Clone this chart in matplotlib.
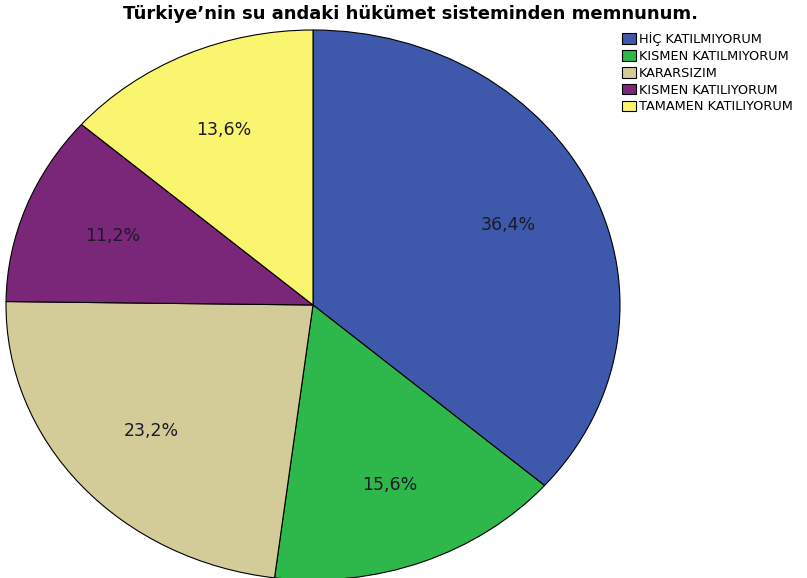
import matplotlib
matplotlib.use("Agg")
import matplotlib.pyplot as plt

plt.rcParams['font.family'] = ['DejaVu Sans']

title = "Türkiye’nin su andaki hükümet sisteminden memnunum."
categories = ["HİÇ KATILMIYORUM", "KISMEN KATILMIYORUM", "KARARSIZIM",
              "KISMEN KATILIYORUM", "TAMAMEN KATILIYORUM"]
values = [36.4, 15.6, 23.2, 11.2, 13.6]
colors = ["#3E58AC", "#2EB84B", "#D4CC98", "#7B2779", "#FAF56E"]

W, H = 807, 578
fig = plt.figure(figsize=(W / 100, H / 100), dpi=100)
# pie axes: center ~ (313,305) px, rx ~307, ry ~275
cx, cy, rx, ry = 313, 305, 307, 275
ax = fig.add_axes([(cx - rx) / W, (H - cy - ry) / H, 2 * rx / W, 2 * ry / H])
wedges, texts, autotexts = ax.pie(
    values, colors=colors, startangle=90, counterclock=False,
    autopct=lambda p: f"{p:.1f}%".replace('.', ','), pctdistance=0.70,
    wedgeprops=dict(edgecolor="black", linewidth=0.8),
    textprops=dict(fontsize=12.5, color="#1a1a2a"))
ax.set_aspect('auto')
ax.set_xlim(-1, 1)
ax.set_ylim(-1, 1)
ax.axis('off')

fig.text(410 / W, 1 - 14 / H, title, ha='center', va='center',
         fontsize=13, fontweight='bold')

leg = fig.legend(wedges, categories, loc='upper left',
                 bbox_to_anchor=(622 / W, 1 - 32 / H), frameon=False,
                 fontsize=9.3, handlelength=1.05, handleheight=0.9,
                 handletextpad=0.25, labelspacing=0.3, borderaxespad=0,
                 borderpad=0)
fig.savefig("out.png", dpi=100)
